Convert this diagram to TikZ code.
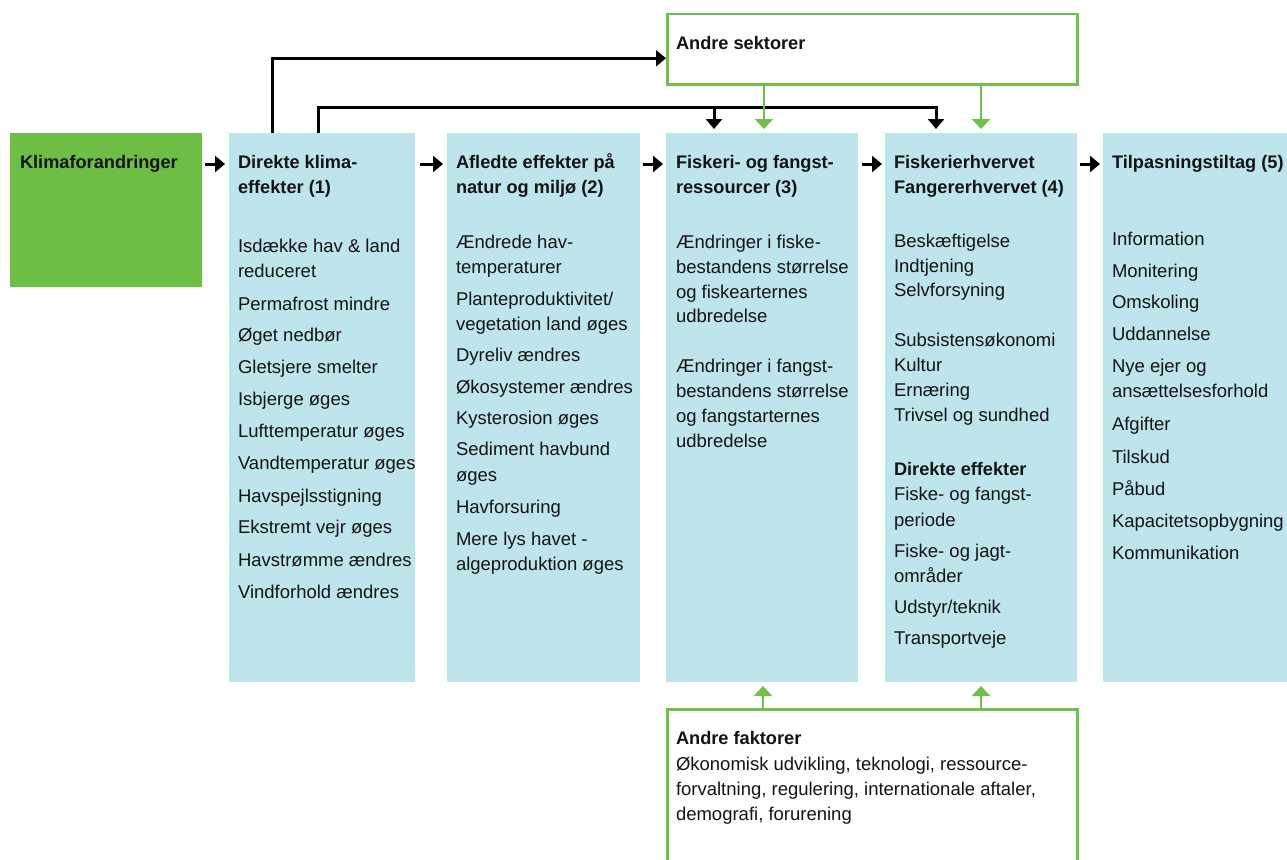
\documentclass[tikz,border=0pt]{standalone}
\usepackage{fontspec}
\setmainfont{Liberation Sans}
\usetikzlibrary{arrows.meta}
\definecolor{kgreen}{HTML}{6CBE45}
\definecolor{kline}{HTML}{72C04A}
\definecolor{kblue}{HTML}{BEE4EC}
\definecolor{ktext}{HTML}{141414}
\tikzset{
  txt/.style={anchor=base west, inner sep=0pt, outer sep=0pt, text=ktext, font=\fontsize{18.5}{24}\selectfont},
  hdr/.style={anchor=base west, inner sep=0pt, outer sep=0pt, text=ktext, font=\fontsize{18.2}{24}\selectfont\bfseries},
  bluebox/.style={fill=kblue, draw=none, anchor=north west, inner sep=0pt, outer sep=0pt, minimum height=549pt, minimum width=#1},
  greenbox/.style={draw=kline, line width=2.5pt, fill=white, anchor=north west, inner sep=0pt, minimum width=410pt, minimum height=#1},
  blk/.style={draw=black, line width=3pt, -{Triangle[length=10pt,width=16pt]}},
  grn/.style={draw=kline, line width=2.5pt, -{Triangle[length=10pt,width=18pt]}},
}
\begin{document}
\begin{tikzpicture}[x=1pt,y=-1pt]
\useasboundingbox (0,0) rectangle (1287,859);
\clip (0,0) rectangle (1287,859);
\fill[white] (0,0) rectangle (1287,859);

% boxes
\node[fill=kgreen, anchor=north west, inner sep=0pt, outer sep=0pt, minimum width=192pt, minimum height=154pt] (kl) at (10,133) {};
\node[bluebox=186pt] (b1) at (229,133) {};
\node[bluebox=193pt] (b2) at (447,133) {};
\node[bluebox=192pt] (b3) at (666,133) {};
\node[bluebox=192pt] (b4) at (885,133) {};
\node[bluebox=190pt] (b5) at (1103,133) {};
\node[greenbox=70pt] (as) at (666,13) {};
\node[greenbox=165pt] (af) at (666,708) {};

% headers
\node[hdr] (klt) at (20,168) {Klimaforandringer};
\node[hdr] (h1a) at (238,168) {Direkte klima-};
\node[hdr] (h1b) at (238,193) {effekter (1)};
\node[hdr] (h2a) at (456,168) {Afledte effekter på};
\node[hdr] (h2b) at (456,193) {natur og miljø (2)};
\node[hdr] (h3a) at (676,168) {Fiskeri- og fangst-};
\node[hdr] (h3b) at (676,193) {ressourcer (3)};
\node[hdr] (h4a) at (894,168) {Fiskerierhvervet};
\node[hdr] (h4b) at (894,193) {Fangererhvervet (4)};
\node[hdr] (h5a) at (1112,168) {Tilpasningstiltag (5)};
\node[hdr] (ast) at (676,50) {Andre sektorer};
\node[hdr] (aft) at (676,744) {Andre faktorer};

% box 1 items
\foreach \y/\t [count=\i] in {252/{Isdække hav \& land}, 277/{reduceret}, 310/{Permafrost mindre}, 341/{Øget nedbør}, 373/{Gletsjere smelter}, 405/{Isbjerge øges}, 437/{Lufttemperatur øges}, 469/{Vandtemperatur øges}, 502/{Havspejlsstigning}, 533/{Ekstremt vejr øges}, 566/{Havstrømme ændres}, 598/{Vindforhold ændres}}
  \node[txt] (a\i) at (238,\y) {\t};

% box 2 items
\foreach \y/\t [count=\i] in {248/{Ændrede hav-}, 273/{temperaturer}, 305/{Planteproduktivitet/}, 330/{vegetation land øges}, 361/{Dyreliv ændres}, 393/{Økosystemer ændres}, 424/{Kysterosion øges}, 455/{Sediment havbund}, 481/{øges}, 513/{Havforsuring}, 545/{Mere lys havet -}, 570/{algeproduktion øges}}
  \node[txt] (c\i) at (456,\y) {\t};

% box 3 items
\foreach \y/\t [count=\i] in {248/{Ændringer i fiske-}, 273/{bestandens størrelse}, 298/{og fiskearternes}, 322/{udbredelse}, 372/{Ændringer i fangst-}, 397/{bestandens størrelse}, 422/{og fangstarternes}, 447/{udbredelse}}
  \node[txt] (d\i) at (676,\y) {\t};

% box 4 items
\foreach \y/\t [count=\i] in {247/{Beskæftigelse}, 272/{Indtjening}, 296/{Selvforsyning}, 346/{Subsistensøkonomi}, 371/{Kultur}, 396/{Ernæring}, 421/{Trivsel og sundhed}, 500/{Fiske- og fangst-}, 526/{periode}, 557/{Fiske- og jagt-}, 582/{områder}, 613/{Udstyr/teknik}, 644/{Transportveje}}
  \node[txt] (e\i) at (894,\y) {\t};
\node[hdr] (e0) at (894,475) {Direkte effekter};

% box 5 items
\foreach \y/\t [count=\i] in {245/{Information}, 277/{Monitering}, 308/{Omskoling}, 340/{Uddannelse}, 372/{Nye ejer og}, 397/{ansættelsesforhold}, 430/{Afgifter}, 463/{Tilskud}, 495/{Påbud}, 527/{Kapacitetsopbygning}, 559/{Kommunikation}}
  \node[txt] (f\i) at (1112,\y) {\t};

% andre faktorer text
\node[txt] (af1) at (676,770) {Økonomisk udvikling, teknologi, ressource-};
\node[txt] (af2) at (676,795) {forvaltning, regulering, internationale aftaler,};
\node[txt] (af3) at (676,820) {demografi, forurening};

% horizontal arrows
\draw[blk] ([shift={(3pt,-31pt)}]kl.north east) -- ([shift={(-4pt,-31pt)}]b1.north west);
\draw[blk] ([shift={(5pt,-31pt)}]b1.north east) -- ([shift={(-4pt,-31pt)}]b2.north west);
\draw[blk] ([shift={(3pt,-31pt)}]b2.north east) -- ([shift={(-3pt,-31pt)}]b3.north west);
\draw[blk] ([shift={(4pt,-31pt)}]b3.north east) -- ([shift={(-3pt,-31pt)}]b4.north west);
\draw[blk] ([shift={(3pt,-31pt)}]b4.north east) -- ([shift={(-3pt,-31pt)}]b5.north west);

% black lines to Andre sektorer and boxes 3/4
\draw[blk] ([xshift=43pt]b1.north west) |- ([yshift=-9pt]as.west);
\draw[blk, shorten >=4pt] ([xshift=89pt]b1.north west) |- ([shift={(51pt,26pt)}]b4.north west) -- ([xshift=51pt]b4.north west);
\draw[blk, shorten >=4pt] ([shift={(48pt,26pt)}]b3.north west) -- ([xshift=48pt]b3.north west);

% green arrows from Andre sektorer
\draw[grn, shorten >=4pt] ([xshift=98pt]as.south west) -- ([xshift=98pt]b3.north west);
\draw[grn, shorten >=4pt] ([xshift=315pt]as.south west) -- ([xshift=96pt]b4.north west);

% green arrows from Andre faktorer
\draw[grn, shorten >=4pt] ([xshift=97pt]af.north west) -- ([xshift=97pt]b3.south west);
\draw[grn, shorten >=4pt] ([xshift=315pt]af.north west) -- ([xshift=96pt]b4.south west);
\end{tikzpicture}
\end{document}
